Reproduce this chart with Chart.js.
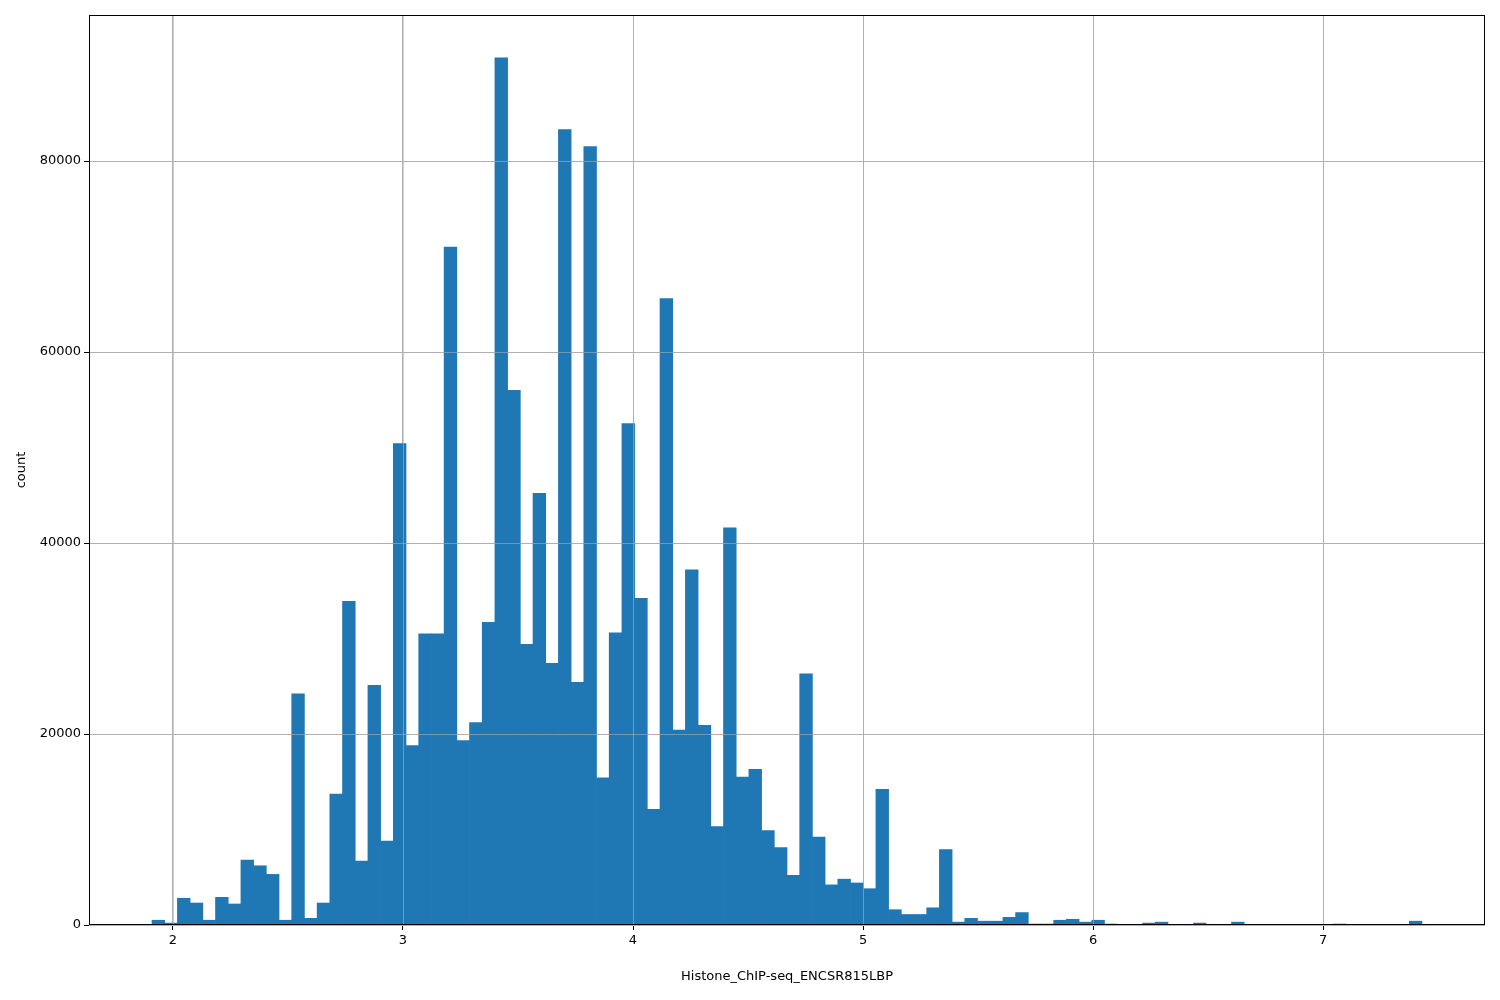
<!DOCTYPE html>
<html><head><meta charset="utf-8">
<script src="https://cdn.jsdelivr.net/npm/chart.js@4"></script>
<style>html,body{margin:0;padding:0;background:#fff}#w{width:1500px;height:1000px}</style>
</head><body><div id="w"><canvas id="c"></canvas></div>
<script>
const binStart = 1.909, binEnd = 7.430, nBins = 100;
const counts = [500,200,2800,2300,500,2900,2200,6800,6200,5300,
500,24200,700,2300,13700,33900,6700,25100,8800,50400,
18800,30500,30500,71000,19300,21200,31700,90800,56000,29400,
45200,27400,83300,25400,81500,15400,30600,52500,34200,12100,
65600,20400,37200,20900,10300,41600,15500,16300,9900,8100,
5200,26300,9200,4200,4800,4400,3800,14200,1600,1100,
1100,1800,7900,300,700,400,400,800,1300,100,
100,500,600,300,500,100,0,0,200,300,
0,0,200,0,0,300,0,0,0,0,
0,0,0,100,0,0,0,0,0,400];
const xTicks = [2,3,4,5,6,7];
const yTicks = [0,20000,40000,60000,80000];
const w = (binEnd-binStart)/nBins;
const pts = counts.map((v,i)=>({x: binStart + w*(i+0.5), y: v}));
const frame = {id:'frame', afterDatasetsDraw(c){const a=c.chartArea,x=c.ctx;x.save();
  x.strokeStyle='rgba(176,176,176,0.6)';x.lineWidth=1;
  xTicks.forEach(v=>{const p=Math.round(c.scales.x.getPixelForValue(v))+0.5;x.beginPath();x.moveTo(p,a.top);x.lineTo(p,a.bottom);x.stroke();});
  yTicks.forEach(v=>{const p=Math.round(c.scales.y.getPixelForValue(v))+0.5;x.beginPath();x.moveTo(a.left,p);x.lineTo(a.right,p);x.stroke();});
  x.strokeStyle='#000';x.strokeRect(a.left+0.5,a.top+0.5,a.right-a.left-1,a.bottom-a.top-1);x.restore();}};
Chart.defaults.font.family = 'DejaVu Sans';
Chart.defaults.font.size = 13;
Chart.defaults.color = '#000';
new Chart(document.getElementById('c'), {
  type:'bar',
  data:{datasets:[{data:pts, backgroundColor:'#1f77b4', barPercentage:1, categoryPercentage:1, borderWidth:0}]},
  options:{
    responsive:true, maintainAspectRatio:false, animation:false,
    layout:{padding:{top:15,right:15,left:0,bottom:0}},
    plugins:{legend:{display:false},tooltip:{enabled:false}},
    scales:{
      x:{type:'linear', min:1.635, max:7.704, offset:false,
        afterBuildTicks(s){s.ticks = xTicks.map(v=>({value:v}));},
        afterFit(s){s.height=75;},
        grid:{color:'#b0b0b0', tickColor:'#000', tickLength:5, offset:false},
        border:{display:false},
        ticks:{padding:3, maxRotation:0},
        title:{display:true, text:'Histone_ChIP-seq_ENCSR815LBP', padding:{top:4,bottom:16}}},
      y:{min:0, max:95290,
        afterBuildTicks(s){s.ticks = yTicks.map(v=>({value:v}));},
        afterFit(s){s.width=89;},
        grid:{color:'#b0b0b0', tickColor:'#000', tickLength:5},
        border:{display:false},
        ticks:{padding:3, callback:v=>String(v)},
        title:{display:true, text:'count', padding:{top:14,bottom:0}}}
    }
  },
  plugins:[frame]
});
</script></body></html>
